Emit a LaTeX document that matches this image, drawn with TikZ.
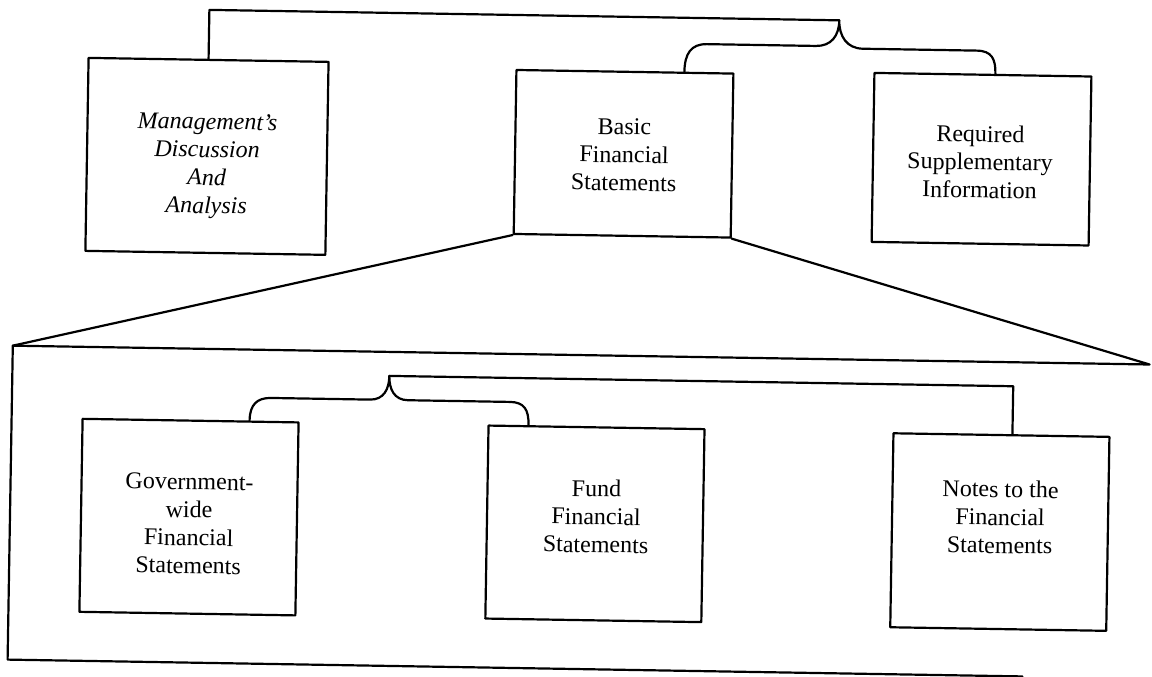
\documentclass[tikz,border=0pt]{standalone}
\usepackage{fontspec}
\setmainfont{Liberation Serif}
\usetikzlibrary{calc}
\begin{document}
\begin{tikzpicture}[x=0.5pt,y=-0.5pt,line join=round,line cap=round,
	box/.style={draw,line width=1.1pt,minimum width=108pt,inner sep=0pt},
	txt/.style={align=center,inner sep=0pt,font=\fontsize{12}{14}\selectfont}]
	\useasboundingbox (0,0) rectangle (1152,676);
	\begin{scope}[rotate around={-0.95:(576,338)},transform shape,line width=1.1pt]
		% upper row
		\node[box,minimum width=120pt,minimum height=96.5pt] (mda) at (204,162.5) {};
		\node[box,minimum width=108.5pt,minimum height=82pt] (bfs) at (620.5,153) {};
		\node[box,minimum width=108.5pt,minimum height=84.5pt] (rsi) at (978.5,152.5) {};
		\node[txt,font=\fontsize{12}{14}\selectfont\itshape] (mdatxt) at (204,172) {Management's\\Discussion\\And\\Analysis};
		\node[txt] (bfstxt) at (621,154) {Basic\\Financial\\Statements};
		\node[txt] (rsitxt) at (977,155) {Required\\Supplementary\\Information};
		% lower row
		\node[box,minimum height=96.5pt] (gwfs) at (192,523.5) {};
		\node[box,minimum height=96.5pt] (ffs) at (598,523.5) {};
		\node[box,minimum height=97pt] (nts) at (1003,525) {};
		\node[txt] (gwfstxt) at (192,530) {Government-\\wide\\Financial\\Statements};
		\node[txt] (ffstxt) at (599,516) {Fund\\Financial\\Statements};
		\node[txt] (ntstxt) at (1003,510) {Notes to the\\Financial\\Statements};
		\coordinate (topcusp) at (834,16);
		\coordinate (lowcusp) at (390,379);
		\coordinate (bigtl) at (13,355);
		\coordinate (bigtr) at (1150,355);
		\coordinate (bigbl) at (13,669);
		\coordinate (bigbr) at (1028,669);
		% brackets
		\draw (mda.north) |- (topcusp);
		\draw ($(bfs.north)+(59.5,0)$) .. controls (680,52) and (686,42) .. (702,42) -- (811,42) .. controls (826,42) and (834,32) .. (topcusp) .. controls (834,32) and (842,44) .. (858,44) -- (972,44) .. controls (987,44) and (991,52) .. ($(rsi.north)+(12.5,0)$);
		\draw ($(gwfs.north)+(59,0)$) .. controls (251,410) and (258,403) .. (272,403) -- (371,403) .. controls (385,403) and (390,392) .. (lowcusp) .. controls (390,392) and (395,403) .. (409,403) -- (511,403) .. controls (525,403) and (530,410) .. ($(ffs.north)+(-68,0)$);
		\draw (lowcusp) -| ($(nts.north)+(11,0)$);
		% zoom out of the basic statements
		\draw (bfs.south west) -- (bigtl) -- (bigbl) -- (bigbr);
		\draw (bfs.south east) -- (bigtr) -- (bigtl);
	\end{scope}
\end{tikzpicture}
\end{document}
